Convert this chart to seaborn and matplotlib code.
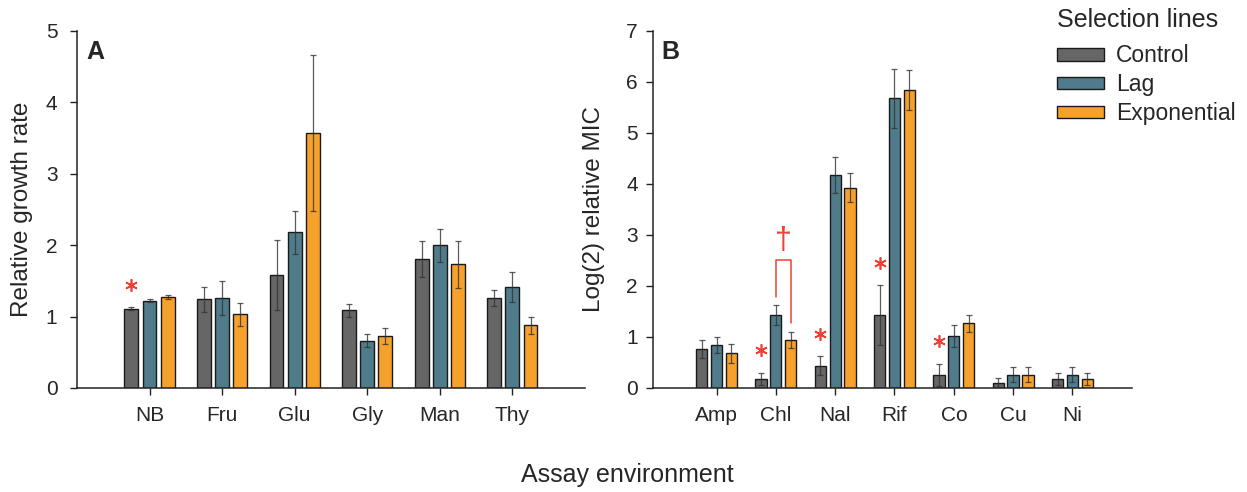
import numpy as np
import pandas as pd
import seaborn as sns
import matplotlib.pyplot as plt
from matplotlib.patches import Patch
from matplotlib.transforms import offset_copy

# selection lines (hue)
lines = ["Control", "Lag", "Exponential"]
line_colors = ["#666666", "#4f7b8a", "#f5a12b"]
mark_red = "#ee4035"

# panel A: relative growth rate per assay environment
growth_env = ["NB", "Fru", "Glu", "Gly", "Man", "Thy"]
growth_control = [1.11, 1.24, 1.58, 1.09, 1.81, 1.26]
growth_lag = [1.22, 1.26, 2.18, 0.66, 2.00, 1.42]
growth_exp = [1.27, 1.03, 3.57, 0.73, 1.73, 0.88]
growth_control_se = [0.02, 0.17, 0.49, 0.09, 0.25, 0.11]
growth_lag_se = [0.02, 0.24, 0.30, 0.09, 0.23, 0.21]
growth_exp_se = [0.03, 0.16, 1.09, 0.11, 0.33, 0.12]
growth_stars = ["NB"]

# panel B: log2 relative MIC per drug / metal
mic_env = ["Amp", "Chl", "Nal", "Rif", "Co", "Cu", "Ni"]
mic_control = [0.76, 0.18, 0.44, 1.43, 0.26, 0.10, 0.18]
mic_lag = [0.84, 1.43, 4.18, 5.68, 1.02, 0.26, 0.26]
mic_exp = [0.68, 0.94, 3.93, 5.85, 1.27, 0.26, 0.18]
mic_control_se = [0.18, 0.12, 0.19, 0.59, 0.22, 0.09, 0.12]
mic_lag_se = [0.16, 0.20, 0.35, 0.58, 0.22, 0.15, 0.15]
mic_exp_se = [0.19, 0.15, 0.29, 0.39, 0.17, 0.15, 0.12]
mic_stars = ["Chl", "Nal", "Rif", "Co"]
dagger_env = "Chl"   # Lag vs Exponential
dagger_level = 2.5


def draw_panel(ax, envs, means, ses, ymax, ylabel, letter, stars, ylab_x, ypad):
    df = pd.concat([pd.DataFrame({"env": envs, "line": name, "value": m})
                    for name, m in zip(lines, means)], ignore_index=True)
    sns.barplot(data=df, x="env", y="value", hue="line", order=envs, hue_order=lines,
                palette=line_colors, saturation=1, width=0.75, gap=0.24,
                edgecolor="#1a1a1a", linewidth=1, errorbar=None, legend=False, ax=ax)

    # error bars from the given SE values
    for cont, se in zip(ax.containers, ses):
        xs = [p.get_x() + p.get_width() / 2 for p in cont]
        hs = [p.get_height() for p in cont]
        ax.errorbar(xs, hs, yerr=se, fmt="none", ecolor="#333333", elinewidth=0.9,
                    capsize=2.5, capthick=0.9, alpha=0.8, zorder=3)

    # significance asterisks above the control bars
    star_tf = offset_copy(ax.transData, fig=ax.figure, y=16, units="points")
    for i, env in enumerate(envs):
        if env in stars:
            p = ax.containers[0][i]
            ax.plot(p.get_x() + p.get_width() / 2, p.get_height() + ses[0][i],
                    marker=(6, 2, 0), ms=9, mew=1.2, color=mark_red,
                    transform=star_tf, clip_on=False, zorder=4)

    ax.set_xlim(-1, len(envs))
    ax.set_ylim(0, ymax)
    ax.set_yticks(range(ymax + 1))
    ax.set_xlabel("")
    ax.set_ylabel(ylabel, fontsize=17.5)
    ax.yaxis.set_label_coords(ylab_x, 0.5)
    ax.tick_params(axis="both", labelsize=15, length=5, width=1, direction="out", color="#222222")
    ax.tick_params(axis="x", pad=8)
    ax.tick_params(axis="y", pad=ypad)
    for s in ["left", "bottom"]:
        ax.spines[s].set_linewidth(1.1)
        ax.spines[s].set_color("#222222")
    sns.despine(ax=ax)
    ax.text(0.018, 0.975, letter, transform=ax.transAxes, fontsize=18,
            fontweight="bold", va="top", ha="left")


sns.set_style("ticks")
plt.rcParams["font.family"] = ["Liberation Sans", "DejaVu Sans"]

fig = plt.figure(figsize=(12.47, 4.92), dpi=100)
ax_a = fig.add_axes([0.0617, 0.2114, 0.4074, 0.7256])
ax_b = fig.add_axes([0.5237, 0.2114, 0.3839, 0.7256])

draw_panel(ax_a, growth_env, [growth_control, growth_lag, growth_exp],
           [growth_control_se, growth_lag_se, growth_exp_se], 5,
           "Relative growth rate", "A", growth_stars, -0.087, 9)
draw_panel(ax_b, mic_env, [mic_control, mic_lag, mic_exp],
           [mic_control_se, mic_lag_se, mic_exp_se], 7,
           "Log(2) relative MIC", "B", mic_stars, -0.10, 6)
ax_b.set_xlim(-1.07, len(mic_env))

# dagger bracket: Lag vs Exponential in Chl
k = mic_env.index(dagger_env)
lag_bar = ax_b.containers[1][k]
exp_bar = ax_b.containers[2][k]
x1 = lag_bar.get_x() + lag_bar.get_width() / 2
x2 = exp_bar.get_x() + exp_bar.get_width() / 2
y1 = lag_bar.get_height() + mic_lag_se[k] + 0.15
y2 = exp_bar.get_height() + mic_exp_se[k] + 0.18
ax_b.plot([x1, x1, x2, x2], [y1, dagger_level, dagger_level, y2], color=mark_red, lw=1.1)
ax_b.annotate("\u2020", xy=((x1 + x2) / 2, dagger_level), xytext=(0, 3),
              textcoords="offset points", ha="center", va="bottom",
              fontsize=22, color=mark_red)

fig.text(0.503, 0.035, "Assay environment", ha="center", va="center", fontsize=18)

# legend: title drawn separately to get the wider gap under it
fig.text(0.848, 0.96, "Selection lines", ha="left", va="center", fontsize=18)
handles = [Patch(facecolor=c, edgecolor="#1a1a1a", linewidth=1) for c in line_colors]
fig.legend(handles, lines, loc="upper left", bbox_to_anchor=(0.848, 0.91),
           frameon=False, fontsize=16.5, handlelength=2.05, handleheight=0.48,
           handletextpad=0.5, labelspacing=0.26, borderpad=0, borderaxespad=0)

fig.savefig("out.png", dpi=100)
